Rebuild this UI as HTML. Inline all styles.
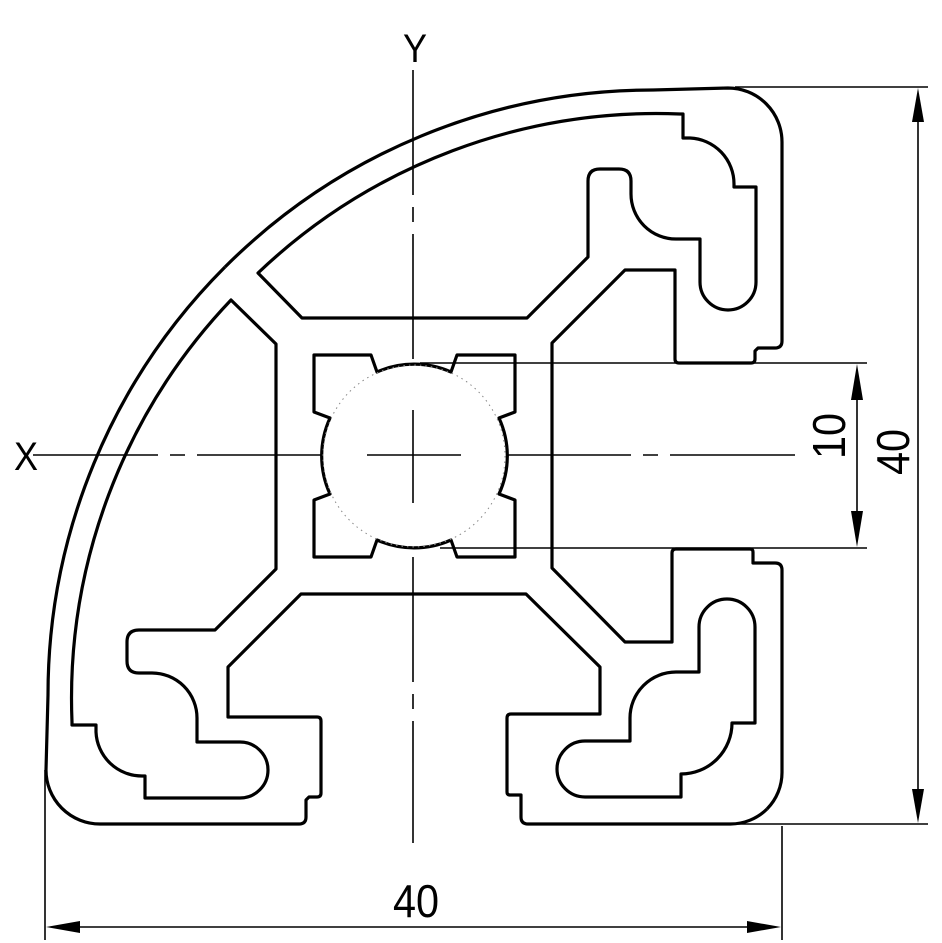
<!DOCTYPE html>
<html><head><meta charset="utf-8"><style>
html,body{margin:0;padding:0;background:#fff;}
svg{display:block;}
text{font-family:"Liberation Sans",sans-serif;fill:#000;}
</style></head><body>
<svg width="942" height="943" viewBox="0 0 942 943" xmlns="http://www.w3.org/2000/svg">
<g fill="none" stroke="#000" stroke-width="3.2" stroke-linejoin="round">
  <g>
    <path d="M225,267 A605,605 0 0 1 653,90 L728,88 A54,54 0 0 1 782,142 L782,341 Q782,348 775,348 L758,348 L755,351 L755,359 Q755,363 751,363 L679,363 Q675,363 675,359 L675,270 L625,270 L552,343 L552,568 L625,642 L672,642 L672,553 Q672,549 676,549 L750,549 Q753,549 753,552 L753,563 L775,563 Q782,563 782,570 L782,772 A52,52 0 0 1 767,809"/>
    <path d="M258,273 A578,578 0 0 1 680,114 L683,114 L683,138 L690,138 A46,46 0 0 1 734,184 L734,187 L756,187 L756,282 A28,28 0 0 1 700,282 L700,239 L676,239 A45,45 0 0 1 631,194 L631,181 Q631,169 619,169 L600,169 Q588,169 588,181 L588,257 L527,318 L302,318 Z"/>
  </g>
  <g transform="matrix(0,1,1,0,-42,42)">
    <path d="M225,267 A605,605 0 0 1 653,90 L728,88 A54,54 0 0 1 782,142 L782,341 Q782,348 775,348 L758,348 L755,351 L755,359 Q755,363 751,363 L679,363 Q675,363 675,359 L675,270 L625,270 L552,343 L552,568 L625,642 L672,642 L672,553 Q672,549 676,549 L750,549 Q753,549 753,552 L753,563 L775,563 Q782,563 782,570 L782,772 A52,52 0 0 1 767,809"/>
    <path d="M258,273 A578,578 0 0 1 680,114 L683,114 L683,138 L690,138 A46,46 0 0 1 734,184 L734,187 L756,187 L756,282 A28,28 0 0 1 700,282 L700,239 L676,239 A45,45 0 0 1 631,194 L631,181 Q631,169 619,169 L600,169 Q588,169 588,181 L588,257 L527,318 L302,318 Z"/>
  </g>
  <path d="M699,672 L699,627 A28,28 0 0 1 755,627 L755,723 L732,723 A51,51 0 0 1 681,774 L681,797 L585,797 A28,28 0 0 1 585,741 L630,741 L630,718 A46,46 0 0 1 676,672 Z"/>
  <path d="M371,355 L377,372 A91,91 0 0 1 451,372 L457,355 L515,355 L515,412 L499,418 A91,91 0 0 1 499,494 L515,500 L515,557 L457,557 L451,540 A91,91 0 0 1 377,540 L371,557 L314,557 L314,500 L330,494 A91,91 0 0 1 330,418 L314,412 L314,355 Z"/>
</g>
<circle cx="414" cy="456" r="91" fill="none" stroke="#888" stroke-width="1" stroke-dasharray="1.5 4"/>
<g stroke="#000" stroke-width="1.6" fill="none">
  <line x1="413" y1="70" x2="413" y2="363" stroke-dasharray="125 12 15 12"/>
  <line x1="413" y1="557" x2="413" y2="843" stroke-dasharray="125 12 15 12"/>
  <line x1="33" y1="455" x2="322" y2="455" stroke-dasharray="125 12 15 12"/>
  <line x1="506" y1="455" x2="798" y2="455" stroke-dasharray="125 12 15 12"/>
  <line x1="367" y1="455" x2="461" y2="455"/>
  <line x1="413" y1="410" x2="413" y2="503"/>
  <line x1="420" y1="363" x2="867" y2="363"/>
  <line x1="440" y1="548" x2="867" y2="548"/>
  <line x1="735" y1="87" x2="928" y2="87"/>
  <line x1="735" y1="824" x2="928" y2="824"/>
  <line x1="45" y1="770" x2="45" y2="940"/>
  <line x1="782" y1="826" x2="782" y2="940"/>
  <line x1="857" y1="380" x2="857" y2="532"/>
  <line x1="918" y1="110" x2="918" y2="800"/>
  <line x1="70" y1="927" x2="758" y2="927"/>
</g>
<g fill="#000">
  <polygon points="857,364 851,400 863,400"/>
  <polygon points="857,547 851,511 863,511"/>
  <polygon points="918,88 912,122 924,122"/>
  <polygon points="918,823 912,789 924,789"/>
  <polygon points="46,927 80,921 80,933"/>
  <polygon points="781,927 747,921 747,933"/>
</g>
<text x="415" y="62" font-size="40" text-anchor="middle" transform="translate(415,0) scale(0.9,1) translate(-415,0)">Y</text>
<text x="26" y="470" font-size="40" text-anchor="middle" transform="translate(26,0) scale(0.9,1) translate(-26,0)">X</text>
<text x="0" y="0" font-size="46" text-anchor="middle" transform="translate(416,917) scale(0.9,1)">40</text>
<text x="0" y="0" font-size="46" text-anchor="middle" transform="translate(845,436) rotate(-90) scale(0.9,1)">10</text>
<text x="0" y="0" font-size="46" text-anchor="middle" transform="translate(909,452) rotate(-90) scale(0.9,1)">40</text>
</svg>
</body></html>
